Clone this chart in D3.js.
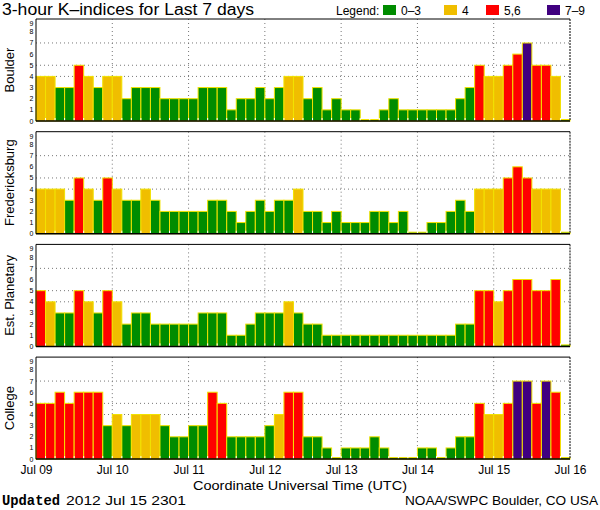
<!DOCTYPE html>
<html>
<head>
<meta charset="utf-8">
<script src="https://cdn.jsdelivr.net/npm/d3@7"></script>
<style>
  html, body { margin: 0; padding: 0; background: #fff; }
  svg { display: block; }
  text { font-family: "Liberation Sans", "DejaVu Sans", sans-serif; fill: #000; }
</style>
</head>
<body>
<svg id="chart" width="600" height="510"></svg>
<script>
// ---- data (3-hour K-indices, 8 per day, Jul 09 - Jul 15 2012) ----
const stations = ["Boulder", "Fredericksburg", "Est. Planetary", "College"];
const boulder = [4,4,3,3,5,4,3,4, 4,2,3,3,3,2,2,2, 2,3,3,3,1,2,2,3, 2,3,4,4,2,3,1,2, 1,1,0,0,1,2,1,1, 1,1,1,1,2,3,5,4, 4,5,6,7,5,5,4,0];
const fredericksburg = [4,4,4,3,5,4,3,5, 4,3,3,4,3,2,2,2, 2,2,3,3,2,1,2,3, 2,3,3,4,2,2,1,2, 1,1,1,2,2,1,2,0, 0,1,1,2,3,2,4,4, 4,5,6,5,4,4,4,0];
const estPlanetary = [5,4,3,3,5,4,3,5, 4,2,3,3,2,2,2,2, 2,3,3,3,1,1,2,3, 3,3,4,3,2,2,1,1, 1,1,1,1,1,1,1,1, 1,1,1,1,2,2,5,5, 4,5,6,6,5,5,6,0];
const college = [5,5,6,5,6,6,6,3, 4,3,4,4,4,3,2,2, 3,3,6,5,2,2,2,2, 3,4,6,6,2,2,1,0, 1,1,1,2,1,0,0,0, 1,1,0,1,2,2,5,4, 4,5,7,7,5,7,6,0];
const seriesList = [boulder, fredericksburg, estPlanetary, college];
const dayLabels = ["Jul 09", "Jul 10", "Jul 11", "Jul 12", "Jul 13", "Jul 14", "Jul 15", "Jul 16"];
const yTicks = [0,1,2,3,4,5,6,7,8,9];
const gridLevels = [4, 5, 7];
const legendLabels = ["0\u20133", "4", "5,6", "7\u20139"];
const titleText = "3-hour K\u2013indices for Last 7 days";
const xTitle = "Coordinate Universal Time (UTC)";
const updatedLabel = "Updated";
const updatedValue = "2012 Jul 15 2301";
const creditText = "NOAA/SWPC Boulder, CO USA";

// ---- layout ----
const left = 36, right = 570;
const panelTop0 = 19, panelStep = 112.7, panelH = 102;
const colors = ["#008c00", "#f0be00", "#ff0000", "#400080"];
function colorFor(k) { return k <= 3 ? colors[0] : k === 4 ? colors[1] : k <= 6 ? colors[2] : colors[3]; }

const svg = d3.select("#chart");
const start = Date.UTC(2012, 6, 9), end = Date.UTC(2012, 6, 16);
const x = d3.scaleUtc().domain([new Date(start), new Date(end)]).range([left, right]);
const step = 3 * 3600 * 1000;
const dayDates = dayLabels.map((_, i) => new Date(start + i * 86400000));

// title
svg.append("text").attr("x", 2).attr("y", 15).attr("font-size", 16)
  .attr("textLength", 252).attr("lengthAdjust", "spacingAndGlyphs").text(titleText);

// legend
const lg = svg.append("g");
lg.append("text").attr("x", 336).attr("y", 15).attr("font-size", 12).text("Legend:");
const legX = [383, 444, 486, 547];
legendLabels.forEach((l, i) => {
  lg.append("rect").attr("x", legX[i]).attr("y", 5).attr("width", 13).attr("height", 10).attr("fill", colors[i]);
  lg.append("text").attr("x", legX[i] + 18).attr("y", 15).attr("font-size", 12).text(l);
});

seriesList.forEach((data, p) => {
  const top = panelTop0 + p * panelStep, bottom = top + panelH;
  const y = d3.scaleLinear().domain([0, 9.15]).range([bottom, top]);
  const g = svg.append("g");

  // grid
  g.selectAll(".hg").data(gridLevels).join("line")
    .attr("x1", left).attr("x2", right).attr("y1", d => y(d)).attr("y2", d => y(d))
    .attr("stroke", "#777").attr("stroke-dasharray", "1,3");
  g.selectAll(".vg").data(dayDates.slice(1, 7)).join("line")
    .attr("x1", d => x(d)).attr("x2", d => x(d)).attr("y1", top).attr("y2", bottom)
    .attr("stroke", "#777").attr("stroke-dasharray", "1,3");

  // bars
  g.selectAll(".bar").data(data).join("rect")
    .attr("x", (d, i) => x(new Date(start + i * step)))
    .attr("width", (d, i) => x(new Date(start + (i + 1) * step)) - x(new Date(start + i * step)))
    .attr("y", d => d === 0 ? bottom - 1.5 : y(d))
    .attr("height", d => d === 0 ? 1.5 : bottom - y(d))
    .attr("fill", d => colorFor(d))
    .attr("stroke", "#f2e200").attr("stroke-width", 1);

  // small white notches at bar boundaries
  g.selectAll(".notch").data(d3.range(1, data.length)).join("line")
    .attr("x1", i => x(new Date(start + i * step))).attr("x2", i => x(new Date(start + i * step)))
    .attr("y1", bottom - 3).attr("y2", bottom).attr("stroke", "#fff").attr("stroke-width", 1);

  // frame
  g.append("line").attr("x1", left).attr("x2", right).attr("y1", top).attr("y2", top).attr("stroke", "#000");
  g.append("line").attr("x1", left).attr("x2", right).attr("y1", bottom).attr("y2", bottom).attr("stroke", "#000").attr("stroke-width", 1.5);
  g.append("line").attr("x1", left).attr("x2", left).attr("y1", top).attr("y2", bottom).attr("stroke", "#000");
  g.append("line").attr("x1", right).attr("x2", right).attr("y1", top).attr("y2", bottom).attr("stroke", "#000").attr("stroke-dasharray", "2,1");

  // y tick labels (small digits, kept inside the frame at the top)
  g.selectAll(".yt").data(yTicks).join("text")
    .attr("x", 33.5).attr("y", d => Math.max(y(d), top + 4.3) + 2.5)
    .attr("text-anchor", "end").attr("font-size", 7).text(d => d);

  // y title
  g.append("text").attr("transform", `translate(14,${(top + bottom) / 2}) rotate(-90)`)
    .attr("text-anchor", "middle").attr("font-size", 13).text(stations[p]);

  if (p === seriesList.length - 1) {
    const ax = d3.axisBottom(x).tickValues(dayDates).tickFormat((d, i) => dayLabels[i]).tickSize(0).tickPadding(6);
    const a = svg.append("g").attr("transform", `translate(0,${bottom})`).call(ax);
    a.select(".domain").remove();
    a.selectAll("text").attr("font-size", 12).attr("font-family", "Liberation Sans, sans-serif").attr("fill", "#000");
  }
});

// x title
svg.append("text").attr("x", 300).attr("y", 490).attr("text-anchor", "middle").attr("font-size", 13)
  .attr("textLength", 214).attr("lengthAdjust", "spacingAndGlyphs").text(xTitle);

// footer
svg.append("text").attr("x", 2).attr("y", 505).attr("font-size", 14).attr("font-weight", "bold")
  .style("font-family", "'Liberation Mono', monospace").attr("textLength", 58).attr("lengthAdjust", "spacingAndGlyphs").text(updatedLabel);
svg.append("text").attr("x", 66).attr("y", 505).attr("font-size", 13)
  .attr("textLength", 120).attr("lengthAdjust", "spacingAndGlyphs").text(updatedValue);
svg.append("text").attr("x", 598).attr("y", 505).attr("text-anchor", "end").attr("font-size", 13)
  .attr("textLength", 193).attr("lengthAdjust", "spacingAndGlyphs").text(creditText);
</script>
</body>
</html>
